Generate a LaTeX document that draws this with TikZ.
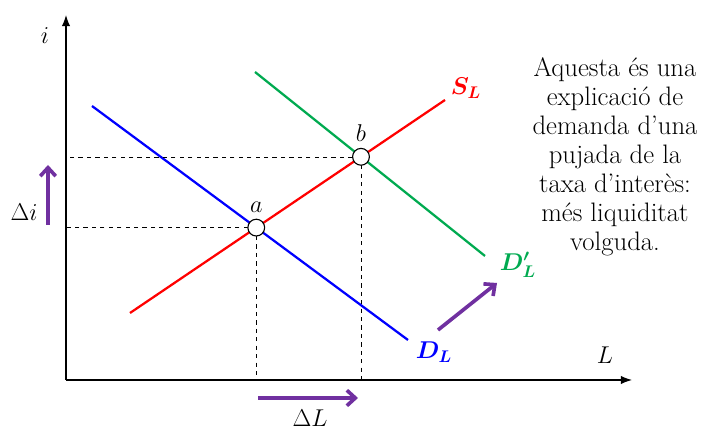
\documentclass[tikz,border=0pt]{standalone}
\usepackage{amsmath,amssymb}
\usepackage{tikz}
\usetikzlibrary{arrows.meta}
\definecolor{lilac}{RGB}{112,48,160}
\definecolor{dgreen}{RGB}{0,170,80}

\begin{document}
\begin{tikzpicture}[every node/.style={font=\LARGE},
	curve/.style={line width=1.6pt},
	guide/.style={dashed, thin},
	push/.style={lilac, line width=2.6pt, -{Straight Barb[length=6pt,width=11pt]}},
	eq/.style={circle, draw, thick, fill=white, inner sep=0pt, minimum size=0.42cm}]
	\useasboundingbox (-1.65,-1.25) rectangle (15.95,9.5);
	% axes
	\coordinate (o) at (0,0);
	\draw[thick, -{Latex[length=8pt]}] (o) -- (0,9.125) coordinate (iax);
	\draw[thick, -{Latex[length=8pt]}] (o) -- (14.15,0) coordinate (lax);
	\node (li) at (-0.525,8.6) {$i$};
	\node (lab) at (13.475,0.625) {$L$};
	% curves
	\coordinate (d1) at (0.65,6.85);  \coordinate (d2) at (8.55,1.0);
	\coordinate (s1) at (1.6,1.675);  \coordinate (s2) at (9.475,7.0);
	\coordinate (e1) at (4.725,7.7);  \coordinate (e2) at (10.475,3.1);
	\draw[curve, blue] (d1) -- (d2);
	\draw[curve, red] (s1) -- (s2);
	\draw[curve, dgreen] (e1) -- (e2);
	\node[blue] (dl) at (9.2,0.7) {$\boldsymbol{D_L}$};
	\node[red] (sl) at (10.0,7.3) {$\boldsymbol{S_L}$};
	\node[dgreen] (dl2) at (11.3,2.875) {$\boldsymbol{D'_L}$};
	% equilibria
	\coordinate (pa) at (intersection of d1--d2 and s1--s2);
	\coordinate (pb) at (intersection of e1--e2 and s1--s2);
	\draw[guide] (pa) -- (pa |- o);  \draw[guide] (pa) -- (pa -| o);
	\draw[guide] (pb) -- (pb |- o);  \draw[guide] (pb) -- (pb -| o);
	\node[eq] (a) at (pa) {};  \node[eq] (b) at (pb) {};
	\node[above=1pt] (la) at (a.north) {$a$};
	\node[above=1pt] (lb) at (b.north) {$b$};
	% shifts
	\coordinate (i1) at (-0.45,3.875); \coordinate (i2) at (-0.45,5.375);
	\draw[push] (i1) -- (i2);
	\node (di) at (-1.05,4.2) {$\Delta i$};
	\coordinate (l1) at (4.8,-0.45); \coordinate (l2) at (7.3,-0.45);
	\draw[push] (l1) -- (l2);
	\node (dL) at (6.1,-0.95) {$\Delta L$};
	\coordinate (m1) at (9.3,1.25); \coordinate (m2) at (10.775,2.425);
	\draw[push] (m1) -- (m2);
	% note
	\node[align=center, font=\fontsize{19}{20.6}\selectfont] (note) at (13.725,5.575)
	{Aquesta és una\\explicació de\\demanda d’una\\pujada de la\\taxa d'interès:\\més liquiditat\\volguda.};
\end{tikzpicture}
\end{document}
